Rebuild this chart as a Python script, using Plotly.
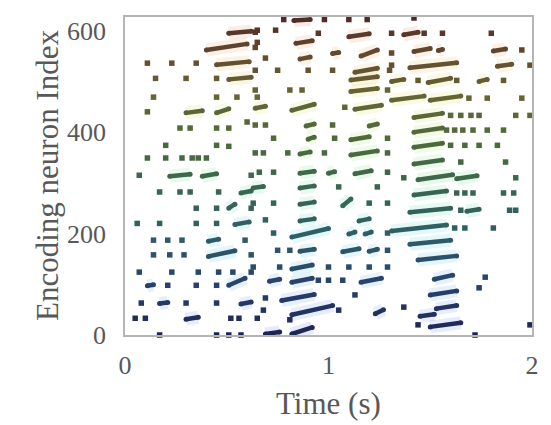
import plotly.graph_objects as go
from plotly.colors import sample_colorscale

# ---- data: short bursts (dashes) ----
dash_t_start = [0.51, 0.40, 0.45, 0.51, 0.30, 0.45, 0.22, 0.38, 0.57, 0.51, 0.54, 0.41, 0.41, 0.51, 0.11, 0.17, 0.57, 0.30,
                0.83, 1.10, 0.84, 1.02, 1.16, 0.86, 1.13, 1.11, 1.11, 0.64, 0.82, 1.13, 0.89, 1.20, 0.90, 1.11, 0.86, 1.11,
                0.86, 1.00, 1.13, 0.63, 0.86, 0.86, 1.07, 0.86, 1.15, 0.82, 1.10, 1.18, 0.86, 1.07, 1.20, 0.82, 0.71, 0.82,
                1.16, 0.77, 0.82, 1.23, 0.69, 0.82,
                1.37, 1.42, 1.54, 1.81, 1.40, 1.83, 1.31, 1.49, 1.74, 1.31, 1.50, 1.42, 1.42, 1.42, 1.42, 1.44, 1.63, 1.42,
                1.40, 1.68, 1.31, 1.40, 1.44, 1.52, 1.50, 1.53, 1.45, 1.50]
dash_t_end = [0.62, 0.60, 0.61, 0.62, 0.38, 0.51, 0.32, 0.45, 0.62, 0.54, 0.61, 0.46, 0.54, 0.59, 0.14, 0.21, 0.62, 0.36,
              0.91, 1.20, 0.92, 1.05, 1.24, 0.91, 1.24, 1.24, 1.24, 0.69, 0.93, 1.26, 0.93, 1.24, 0.93, 1.20, 0.91, 1.24,
              0.93, 1.03, 1.21, 0.68, 0.93, 0.93, 1.11, 0.93, 1.20, 1.00, 1.13, 1.21, 0.93, 1.15, 1.24, 0.92, 0.76, 0.92,
              1.26, 0.93, 1.02, 1.27, 0.76, 0.92,
              1.44, 1.50, 1.56, 1.87, 1.63, 1.90, 1.37, 1.60, 1.78, 1.47, 1.65, 1.56, 1.56, 1.56, 1.56, 1.61, 1.73, 1.58,
              1.60, 1.74, 1.58, 1.60, 1.63, 1.61, 1.63, 1.63, 1.52, 1.65]
dash_n_start = [595, 562, 533, 504, 438, 438, 313, 313, 280, 250, 218, 185, 155, 98, 97, 62, 61, 31,
                620, 588, 575, 555, 550, 544, 518, 503, 480, 447, 443, 445, 412, 412, 386, 385, 357, 355,
                319, 319, 318, 290, 290, 258, 255, 225, 225, 193, 199, 199, 165, 164, 165, 130, 106, 104,
                104, 68, 40, 42, 2, 2,
                592, 559, 561, 560, 527, 530, 500, 498, 500, 463, 463, 429, 400, 370, 337, 306, 308, 276,
                242, 244, 205, 179, 148, 110, 79, 52, 37, 16]
dash_n_end = [599, 574, 539, 508, 442, 446, 317, 318, 284, 258, 223, 189, 166, 112, 99, 64, 65, 35,
              622, 594, 580, 557, 562, 548, 526, 509, 486, 451, 455, 453, 416, 416, 390, 391, 361, 363,
              323, 322, 324, 293, 294, 262, 268, 229, 229, 210, 203, 203, 169, 170, 169, 138, 110, 112,
              112, 80, 58, 50, 6, 15,
              597, 565, 563, 564, 537, 534, 504, 506, 504, 471, 471, 437, 408, 378, 345, 316, 314, 284,
              250, 248, 217, 187, 156, 118, 87, 58, 41, 24]

# ---- data: single spikes ----
spike_time = [0.64, 0.64, 0.11, 0.23, 0.35, 0.15, 0.30, 0.45, 0.14, 0.45, 0.55, 0.65, 0.11, 0.27, 0.32, 0.45, 0.51, 0.60,
              0.20, 0.45, 0.51, 0.11, 0.20, 0.28, 0.33, 0.36, 0.40, 0.07, 0.62, 0.17, 0.27, 0.32, 0.46, 0.35, 0.45, 0.62,
              0.06, 0.17, 0.35, 0.45, 0.14, 0.21, 0.28, 0.59, 0.14, 0.22, 0.29, 0.62, 0.07, 0.23, 0.36, 0.46, 0.53, 0.62,
              0.21, 0.35, 0.45, 0.08, 0.30, 0.45, 0.05, 0.10, 0.52, 0.56, 0.65, 0.17, 0.45, 0.51, 0.57,
              0.78, 0.98, 1.10, 1.19, 0.65, 0.74, 0.95, 0.65, 1.31, 0.69, 0.64, 0.75, 0.90, 1.02, 1.30, 0.64, 0.81, 0.87,
              1.29, 1.08, 0.64, 0.69, 1.02, 0.73, 1.03, 1.29, 0.64, 0.68, 0.80, 0.98, 1.29, 0.66, 0.73, 1.29, 1.05, 1.24,
              0.63, 0.73, 1.20, 1.29, 0.69, 0.73, 1.29, 0.75, 0.81, 1.29, 0.63, 0.76, 1.00, 1.10, 1.20, 1.29, 0.95, 1.00,
              1.07, 1.13, 0.69, 0.68, 1.05, 0.81,
              1.42, 1.31, 1.47, 1.56, 1.80, 1.95, 1.31, 1.99, 1.44, 1.63, 1.86, 1.69, 1.78, 1.95, 1.60, 1.65, 1.70, 1.74,
              1.92, 1.99, 1.58, 1.62, 1.66, 1.71, 1.78, 1.86, 1.60, 1.67, 1.74, 1.83, 1.65, 1.87, 1.37, 1.92, 1.63, 1.67,
              1.71, 1.86, 1.91, 1.65, 1.89, 1.92, 1.62, 1.67, 1.81, 1.77, 1.74, 1.37, 1.44, 1.99, 1.72]
spike_neuron = [597, 567, 536, 536, 536, 506, 506, 506, 469, 469, 469, 469, 440, 408, 408, 408, 408, 420,
                374, 374, 372, 349, 349, 349, 349, 349, 349, 315, 315, 282, 282, 282, 282, 250, 250, 250,
                220, 220, 220, 220, 187, 187, 187, 187, 158, 158, 158, 158, 124, 124, 124, 124, 124, 124,
                98, 98, 98, 63, 63, 63, 33, 33, 33, 33, 33, 0, 0, 0, 0,
                622, 622, 622, 622, 601, 601, 595, 577, 556, 546, 522, 522, 522, 522, 522, 483, 483, 483,
                483, 449, 414, 414, 414, 388, 388, 388, 359, 359, 359, 359, 359, 321, 321, 321, 292, 292,
                260, 260, 260, 260, 227, 201, 201, 167, 167, 167, 134, 134, 134, 134, 134, 134, 108, 108,
                108, 79, 73, 49, 49, 30,
                625, 595, 595, 595, 595, 562, 532, 532, 502, 502, 502, 467, 467, 467, 433, 433, 433, 433,
                433, 433, 404, 404, 404, 404, 404, 404, 374, 374, 374, 374, 341, 341, 310, 310, 280, 280,
                280, 280, 280, 246, 246, 246, 211, 211, 211, 114, 93, 55, 20, 20, 0]

x_ticks = [0, 1, 2]
y_ticks = [0, 200, 400, 600]
n_max = 627

scale = [[0.0, "#1e2452"], [0.15, "#27406e"], [0.32, "#2f5f66"], [0.47, "#3a6650"],
         [0.62, "#4f6a3a"], [0.76, "#666432"], [0.88, "#634a30"], [1.0, "#4e2a26"]]
halo_scale = [[0.0, "#6070ff"], [0.3, "#40d0e0"], [0.5, "#60e070"],
              [0.75, "#e0e040"], [1.0, "#e07050"]]


def col(n, s=scale):
    return sample_colorscale(s, [min(max(n / n_max, 0), 1)])[0]


fig = go.Figure()
# faint coloured halo under each burst
for t0, t1, a, b in zip(dash_t_start, dash_t_end, dash_n_start, dash_n_end):
    fig.add_trace(go.Scatter(x=[t0, t1], y=[a, b], mode="lines",
                             line=dict(color=col((a + b) / 2, halo_scale), width=13),
                             opacity=0.14, cliponaxis=False, showlegend=False, hoverinfo="skip"))
for t0, t1, a, b in zip(dash_t_start, dash_t_end, dash_n_start, dash_n_end):
    fig.add_trace(go.Scatter(x=[t0, t1], y=[a, b], mode="lines+markers",
                             line=dict(color=col((a + b) / 2), width=4.5),
                             marker=dict(size=5, color=col((a + b) / 2)),
                             cliponaxis=False, showlegend=False, hoverinfo="skip"))

fig.add_trace(go.Scatter(x=spike_time, y=spike_neuron, mode="markers",
                         marker=dict(size=5.5, color=[col(n) for n in spike_neuron], symbol="square"),
                         cliponaxis=False, showlegend=False))

font_family = "Liberation Serif, Times New Roman, serif"
fig.update_layout(
    width=551, height=425,
    margin=dict(l=125, r=13, t=17, b=90),
    paper_bgcolor="white", plot_bgcolor="white",
    font=dict(family=font_family, color="#585858", size=26),
    xaxis=dict(range=[0, 2], tickvals=x_ticks, showgrid=False, zeroline=False,
               showline=True, linecolor="#b5b5b5", linewidth=1.5, mirror=True,
               ticks="", tickfont=dict(size=26), ticklabelstandoff=6),
    yaxis=dict(range=[0, n_max], tickvals=y_ticks, showgrid=False, zeroline=False,
               showline=True, linecolor="#b5b5b5", linewidth=1.5, mirror=True,
               ticks="", tickfont=dict(size=26), ticklabelstandoff=12),
    annotations=[
        dict(text="Time (s)", xref="paper", yref="paper", x=0.5, y=0, yshift=-68,
             xanchor="center", yanchor="middle", showarrow=False, font=dict(size=31)),
        dict(text="Encoding neuron Index", xref="paper", yref="paper", x=0, y=0.5, xshift=-78,
             xanchor="center", yanchor="middle", textangle=-90, showarrow=False, font=dict(size=31)),
    ],
)

fig.write_html("out.html")
